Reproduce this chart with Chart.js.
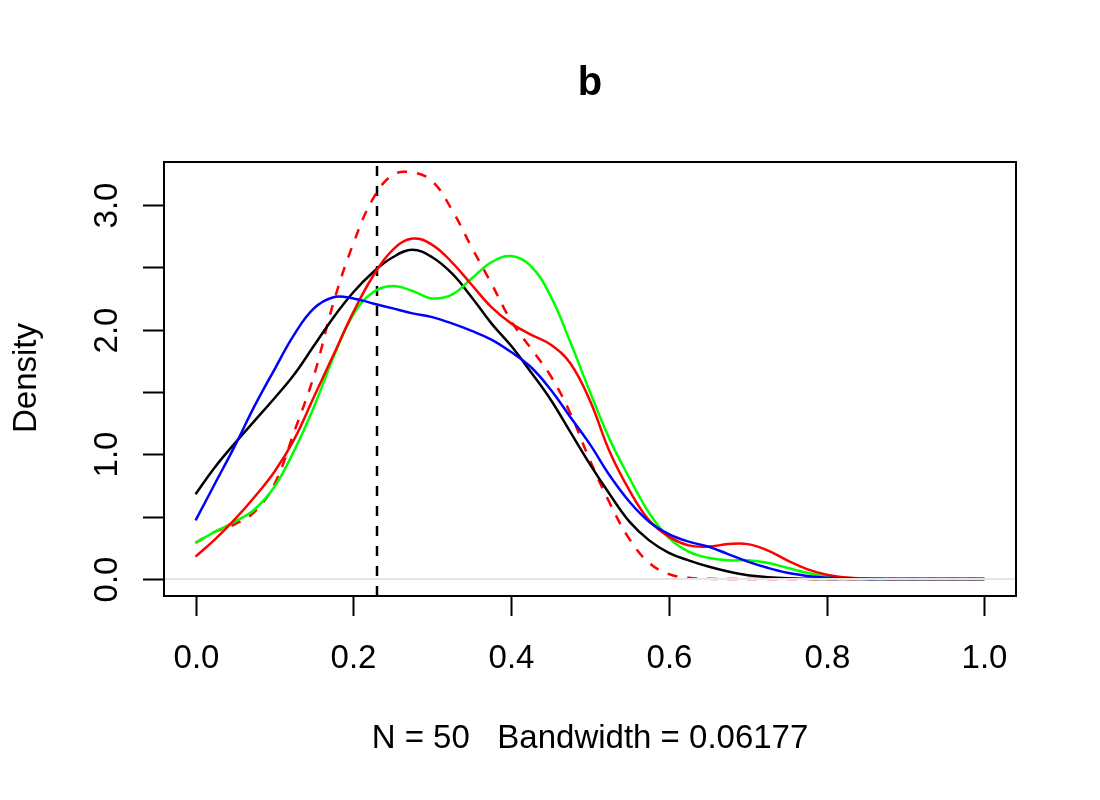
<!DOCTYPE html>
<html>
<head>
<meta charset="utf-8">
<title>b</title>
<script src="https://cdn.jsdelivr.net/npm/chart.js@4.4.1/dist/chart.umd.min.js"></script>
<style>
  html, body { margin: 0; padding: 0; background: #fff; }
  #wrap { width: 1100px; height: 800px; }
</style>
</head>
<body>
<div id="wrap"><canvas id="grafico" width="1100" height="800"></canvas></div>
<script>
// ============================
// DADOS
// ============================
const xs = [0, 0.025, 0.05, 0.075, 0.1, 0.125, 0.15, 0.175, 0.2, 0.225,
            0.25, 0.275, 0.3, 0.325, 0.35, 0.375, 0.4, 0.425, 0.45, 0.475,
            0.5, 0.525, 0.55, 0.575, 0.6, 0.625, 0.65, 0.675, 0.7, 0.725,
            0.75, 0.775, 0.8, 0.825, 0.85, 0.875, 0.9, 0.925, 0.95, 0.975, 1];

const azul = [0.47, 0.77, 1.07, 1.39, 1.68, 1.96, 2.17, 2.26, 2.25, 2.21,
              2.17, 2.13, 2.10, 2.05, 1.99, 1.92, 1.82, 1.70, 1.52, 1.30,
              1.08, 0.83, 0.62, 0.46, 0.36, 0.30, 0.26, 0.20, 0.14, 0.09,
              0.05, 0.025, 0.01, 0.004, 0.001, 0, 0, 0, 0, 0, 0];

const vermelho = [0.18, 0.32, 0.48, 0.66, 0.86, 1.12, 1.46, 1.80, 2.14, 2.43,
                  2.64, 2.73, 2.68, 2.54, 2.36, 2.18, 2.05, 1.96, 1.88, 1.73,
                  1.43, 1.02, 0.71, 0.47, 0.34, 0.27, 0.26, 0.28, 0.28, 0.23,
                  0.15, 0.08, 0.035, 0.012, 0.004, 0.001, 0, 0, 0, 0, 0];

const verde = [0.29, 0.38, 0.46, 0.56, 0.74, 1.03, 1.38, 1.78, 2.12, 2.30,
               2.35, 2.31, 2.25, 2.28, 2.41, 2.54, 2.59, 2.51, 2.27, 1.90,
               1.50, 1.12, 0.81, 0.53, 0.33, 0.22, 0.17, 0.15, 0.15, 0.13,
               0.09, 0.05, 0.02, 0.008, 0.003, 0, 0, 0, 0, 0, 0];

const preto = [0.68, 0.90, 1.09, 1.27, 1.45, 1.64, 1.87, 2.10, 2.30, 2.46,
               2.58, 2.64, 2.58, 2.45, 2.26, 2.05, 1.87, 1.66, 1.44, 1.18,
               0.92, 0.68, 0.46, 0.31, 0.21, 0.15, 0.10, 0.06, 0.03, 0.015,
               0.006, 0.002, 0, 0, 0, 0, 0, 0, 0, 0, 0];

const tracejado = [0.29, 0.38, 0.44, 0.54, 0.76, 1.18, 1.63, 2.22, 2.69, 3.05,
                   3.24, 3.26, 3.19, 2.96, 2.66, 2.37, 2.07, 1.85, 1.63, 1.33,
                   0.95, 0.61, 0.32, 0.13, 0.04, 0.01, 0.003, 0, 0, 0,
                   0, 0, 0, 0, 0, 0, 0, 0, 0, 0, 0];

const linhaVertical = 0.23;

// EIXOS
const xTicks = [0, 0.2, 0.4, 0.6, 0.8, 1];
const xTickLabels = ['0.0', '0.2', '0.4', '0.6', '0.8', '1.0'];
const yTicks = [0, 0.5, 1, 1.5, 2, 2.5, 3];
const yTickLabels = ['0.0', '', '1.0', '', '2.0', '', '3.0'];

const titulo = 'b';
const tituloX = 'N = 50   Bandwidth = 0.06177';
const tituloY = 'Density';

const fonte = '"Liberation Sans", Arial, Helvetica, sans-serif';

// ============================
// MONTA OS PONTOS
// ============================
function pontos(ys) {
  return xs.map((x, i) => ({ x: x, y: ys[i] }));
}

function serie(ys, cor, traco) {
  return {
    data: pontos(ys),
    borderColor: cor,
    borderWidth: 2.5,
    borderDash: traco || [],
    pointRadius: 0,
    fill: false,
    tension: 0.4
  };
}

// ============================
// PLUGIN: MOLDURA, TICKS E TEXTOS NO ESTILO R
// ============================
const estiloR = {
  id: 'estiloR',
  afterDraw(chart) {
    const ctx = chart.ctx;
    const a = chart.chartArea;
    const sx = chart.scales.x;
    const sy = chart.scales.y;
    ctx.save();
    ctx.strokeStyle = '#000';
    ctx.fillStyle = '#000';
    ctx.lineWidth = 2;
    ctx.setLineDash([]);

    // moldura
    ctx.strokeRect(a.left, a.top, a.right - a.left, a.bottom - a.top);

    // eixo x
    ctx.font = '33px ' + fonte;
    ctx.textAlign = 'center';
    ctx.textBaseline = 'alphabetic';
    xTicks.forEach((v, i) => {
      const px = Math.round(sx.getPixelForValue(v)) + 0.5;
      ctx.beginPath();
      ctx.moveTo(px, a.bottom);
      ctx.lineTo(px, a.bottom + 20);
      ctx.stroke();
      ctx.fillText(xTickLabels[i], px, 668);
    });

    // eixo y
    yTicks.forEach((v, i) => {
      const py = Math.round(sy.getPixelForValue(v)) + 0.5;
      ctx.beginPath();
      ctx.moveTo(a.left, py);
      ctx.lineTo(a.left - 21, py);
      ctx.stroke();
      if (yTickLabels[i]) {
        ctx.save();
        ctx.translate(117, py);
        ctx.rotate(-Math.PI / 2);
        ctx.fillText(yTickLabels[i], 0, 0);
        ctx.restore();
      }
    });

    // títulos
    ctx.fillText(tituloX, (a.left + a.right) / 2, 748);
    ctx.save();
    ctx.translate(36, 378);
    ctx.rotate(-Math.PI / 2);
    ctx.fillText(tituloY, 0, 0);
    ctx.restore();

    ctx.font = 'bold 40px ' + fonte;
    ctx.fillText(titulo, (a.left + a.right) / 2, 95);
    ctx.restore();
  }
};

// ============================
// GRÁFICO
// ============================
new Chart(document.getElementById('grafico'), {
  type: 'line',
  data: {
    datasets: [
      // linha horizontal em zero (cinza claro)
      { data: [{ x: -0.04, y: 0 }, { x: 1.04, y: 0 }], borderColor: '#e5e5e5', borderWidth: 2, pointRadius: 0, fill: false },
      serie(azul, '#0000ff'),
      serie(vermelho, '#ff0000'),
      serie(verde, '#00ff00'),
      serie(preto, '#000000'),
      serie(tracejado, '#ff0000', [10, 10]),
      // linha vertical tracejada
      { data: [{ x: linhaVertical, y: -0.136 }, { x: linhaVertical, y: 3.344 }], borderColor: '#000', borderWidth: 2.5, borderDash: [10, 10], pointRadius: 0, fill: false }
    ]
  },
  options: {
    responsive: false,
    animation: false,
    devicePixelRatio: 1,
    layout: { padding: { left: 164, right: 84, top: 162, bottom: 204 } },
    plugins: { legend: { display: false }, title: { display: false }, tooltip: { enabled: false } },
    scales: {
      x: { type: 'linear', min: -0.04, max: 1.04, display: false },
      y: { type: 'linear', min: -0.136, max: 3.344, display: false }
    }
  },
  plugins: [estiloR]
});
</script>
</body>
</html>
